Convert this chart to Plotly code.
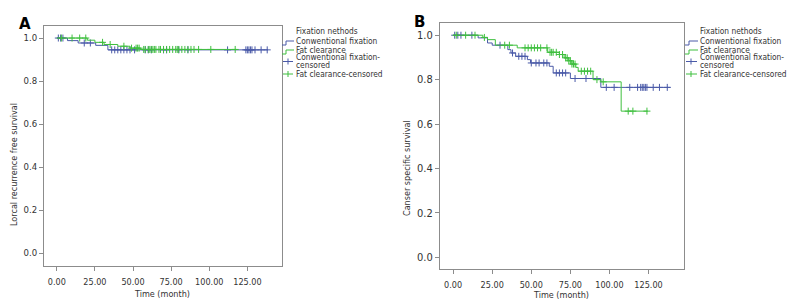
import plotly.graph_objects as go

W, H = 797, 300
FONT = "DejaVu Sans Condensed, DejaVu Sans, sans-serif"
BLUE = "#4a5aa8"
GREEN = "#3fbf3f"
FRAME = "#8c8c8c"

# ---------------- Panel A: local recurrence free survival ----------------
a_conv_times = [0, 7, 14, 25.5, 33.5, 138.5]
a_conv_surv = [1.0, 0.988, 0.977, 0.966, 0.945, 0.945]
a_conv_cens = [1, 2.5, 4, 18, 22, 36, 38, 40, 42, 44, 46, 48, 51, 58, 60, 62,
               70, 72, 80, 86, 112, 124, 125, 126, 127, 128, 130, 134, 138]

a_fat_times = [0, 20, 25, 31, 40, 48, 55, 118]
a_fat_surv = [1.0, 0.99, 0.98, 0.97, 0.962, 0.953, 0.947, 0.947]
a_fat_cens = [3, 10, 15, 19, 30, 35, 44, 49, 52, 53, 54, 57, 58, 60, 61, 62, 63,
              64, 65, 67, 68, 70, 72, 74, 76, 78, 79, 80, 82, 84, 86, 88, 90,
              93, 101, 117]

# ---------------- Panel B: cancer specific survival ----------------
b_conv_times = [0, 16, 22, 25, 35, 37, 40, 47.5, 49.5, 61.5, 64, 75, 94.5, 139]
b_conv_surv = [1.0, 0.988, 0.965, 0.955, 0.935, 0.92, 0.905, 0.89, 0.875,
               0.86, 0.83, 0.805, 0.765, 0.765]
b_conv_cens = [1, 3, 5, 12, 30, 38, 42, 44, 46, 50, 53, 55, 58, 60, 66, 68, 70,
               72, 78, 85, 98, 103, 113, 118, 120, 121, 122, 123, 124, 128,
               132, 137]

b_fat_times = [0, 19, 22, 27, 41, 60.5, 68, 71, 74, 76, 78.5, 80, 89.5, 94.5,
               107.5, 124.5]
b_fat_surv = [1.0, 0.99, 0.98, 0.955, 0.943, 0.923, 0.913, 0.898, 0.885,
              0.87, 0.855, 0.838, 0.80, 0.79, 0.658, 0.658]
b_fat_cens = [2, 8, 14, 20, 33, 36, 46, 48, 50, 52, 54, 56, 60, 62, 63, 64, 66,
              68, 70, 72, 73, 74, 75, 76, 77, 78, 82, 84, 86, 88, 92, 96, 112,
              115, 124]

x_tick_vals = [0, 25, 50, 75, 100, 125]
x_tick_text = ["0.00", "25.00", "50.00", "75.00", "100.00", "125.00"]
y_tick_vals = [0.0, 0.2, 0.4, 0.6, 0.8, 1.0]
y_tick_text = ["0.0", "0.2", "0.4", "0.6", "0.8", "1.0"]

legend_title = "Fixation nethods"
legend_items = ["Conwentional fixation", "Fat clearance",
                "Conwentional fixation-", "censored", "Fat clearance-censored"]


def surv_at(times, surv, t):
    s = surv[0]
    for ti, si in zip(times, surv):
        if ti <= t:
            s = si
    return s


fig = go.Figure()


def add_group(times, surv, cens, color, xa, ya):
    fig.add_trace(go.Scatter(x=times, y=surv, mode="lines", line_shape="hv",
                             line=dict(color=color, width=1), xaxis=xa, yaxis=ya,
                             showlegend=False, hoverinfo="skip"))
    fig.add_trace(go.Scatter(x=cens, y=[surv_at(times, surv, t) for t in cens],
                             mode="markers", xaxis=xa, yaxis=ya, showlegend=False,
                             marker=dict(symbol="cross-thin", size=5,
                                         line=dict(color=color, width=1)),
                             hoverinfo="skip"))


add_group(a_conv_times, a_conv_surv, a_conv_cens, BLUE, "x", "y")
add_group(a_fat_times, a_fat_surv, a_fat_cens, GREEN, "x", "y")
add_group(b_conv_times, b_conv_surv, b_conv_cens, BLUE, "x2", "y2")
add_group(b_fat_times, b_fat_surv, b_fat_cens, GREEN, "x2", "y2")


def px(x):
    return x / W


def py(y):
    return 1 - y / H


common_x = dict(range=[-8.4, 147.7], tickvals=x_tick_vals, ticktext=x_tick_text,
                showgrid=False, zeroline=False, showline=True, linecolor=FRAME,
                linewidth=1, mirror=True, ticks="outside", ticklen=4,
                tickcolor=FRAME, tickfont=dict(family=FONT, size=9, color="#333"))
common_y = dict(tickvals=y_tick_vals, ticktext=y_tick_text, showgrid=False,
                zeroline=False, showline=True, linecolor=FRAME, linewidth=1,
                mirror=True, ticks="outside", ticklen=4, tickcolor=FRAME)

fig.update_layout(
    width=W, height=H, margin=dict(l=0, r=0, t=0, b=0),
    paper_bgcolor="white", plot_bgcolor="white",
    xaxis=dict(domain=[px(36), px(274)], anchor="y", ticklabelstandoff=3, **common_x),
    yaxis=dict(domain=[py(258), py(18)], anchor="x", range=[-0.06, 1.056],
               tickfont=dict(family=FONT, size=9.5, color="#333"), **common_y),
    xaxis2=dict(domain=[px(432), px(676)], anchor="y2", ticklabelstandoff=3, **common_x),
    yaxis2=dict(domain=[py(261), py(15)], anchor="x2", range=[-0.053, 1.055],
                tickfont=dict(family=FONT, size=11, color="#333"), **common_y),
    showlegend=False,
)

ann = []
# Panel letters
ann.append(dict(text="<b>A</b>", x=px(9), y=py(16), xanchor="left", yanchor="middle",
                font=dict(family="DejaVu Sans", size=15, color="black")))
ann.append(dict(text="<b>B</b>", x=px(404), y=py(14), xanchor="left", yanchor="middle",
                font=dict(family="DejaVu Sans", size=15, color="black")))
# Axis titles
ann.append(dict(text="Lorcal recurrence free survival", x=px(6), y=py(157),
                textangle=-90, xanchor="center", yanchor="middle",
                font=dict(family=FONT, size=9, color="#333")))
ann.append(dict(text="Canser specific survival", x=px(399), y=py(160),
                textangle=-90, xanchor="center", yanchor="middle",
                font=dict(family=FONT, size=9, color="#333")))
ann.append(dict(text="Time (month)", x=px(154), y=py(286), xanchor="center",
                yanchor="middle", font=dict(family=FONT, size=9, color="#333")))
ann.append(dict(text="Time (month)", x=px(553), y=py(287), xanchor="center",
                yanchor="middle", font=dict(family=FONT, size=9, color="#333")))

shapes = []
row_y = [33, 42, 49, 57, 66]
for lx, gx in [(286, 274), (690, 677)]:
    ann.append(dict(text=legend_title, x=px(lx), y=py(23), xanchor="left",
                    yanchor="middle", font=dict(family=FONT, size=8.3, color="#333")))
    for txt, yy in zip(legend_items, row_y):
        ann.append(dict(text=txt, x=px(lx), y=py(yy), xanchor="left",
                        yanchor="middle", font=dict(family=FONT, size=8.3, color="#333")))
    # legend glyphs: small step lines and censor crosses
    for yy, col in [(33, BLUE), (42, GREEN)]:
        path = (f"M {px(gx)},{py(yy + 4)} L {px(gx + 4)},{py(yy + 4)} "
                f"L {px(gx + 4)},{py(yy)} L {px(lx)},{py(yy)}")
        shapes.append(dict(type="path", xref="paper", yref="paper", path=path,
                           line=dict(color=col, width=1)))
    for yy, col in [(53.5, BLUE), (66, GREEN)]:
        shapes.append(dict(type="line", xref="paper", yref="paper",
                           x0=px(gx + 1), x1=px(lx - 1), y0=py(yy), y1=py(yy),
                           line=dict(color=col, width=1)))
        shapes.append(dict(type="line", xref="paper", yref="paper",
                           x0=px(gx + 6), x1=px(gx + 6), y0=py(yy - 3), y1=py(yy + 3),
                           line=dict(color=col, width=1)))

for a in ann:
    a.update(xref="paper", yref="paper", showarrow=False)
fig.update_layout(annotations=ann, shapes=shapes)

fig.write_html("out.html")
